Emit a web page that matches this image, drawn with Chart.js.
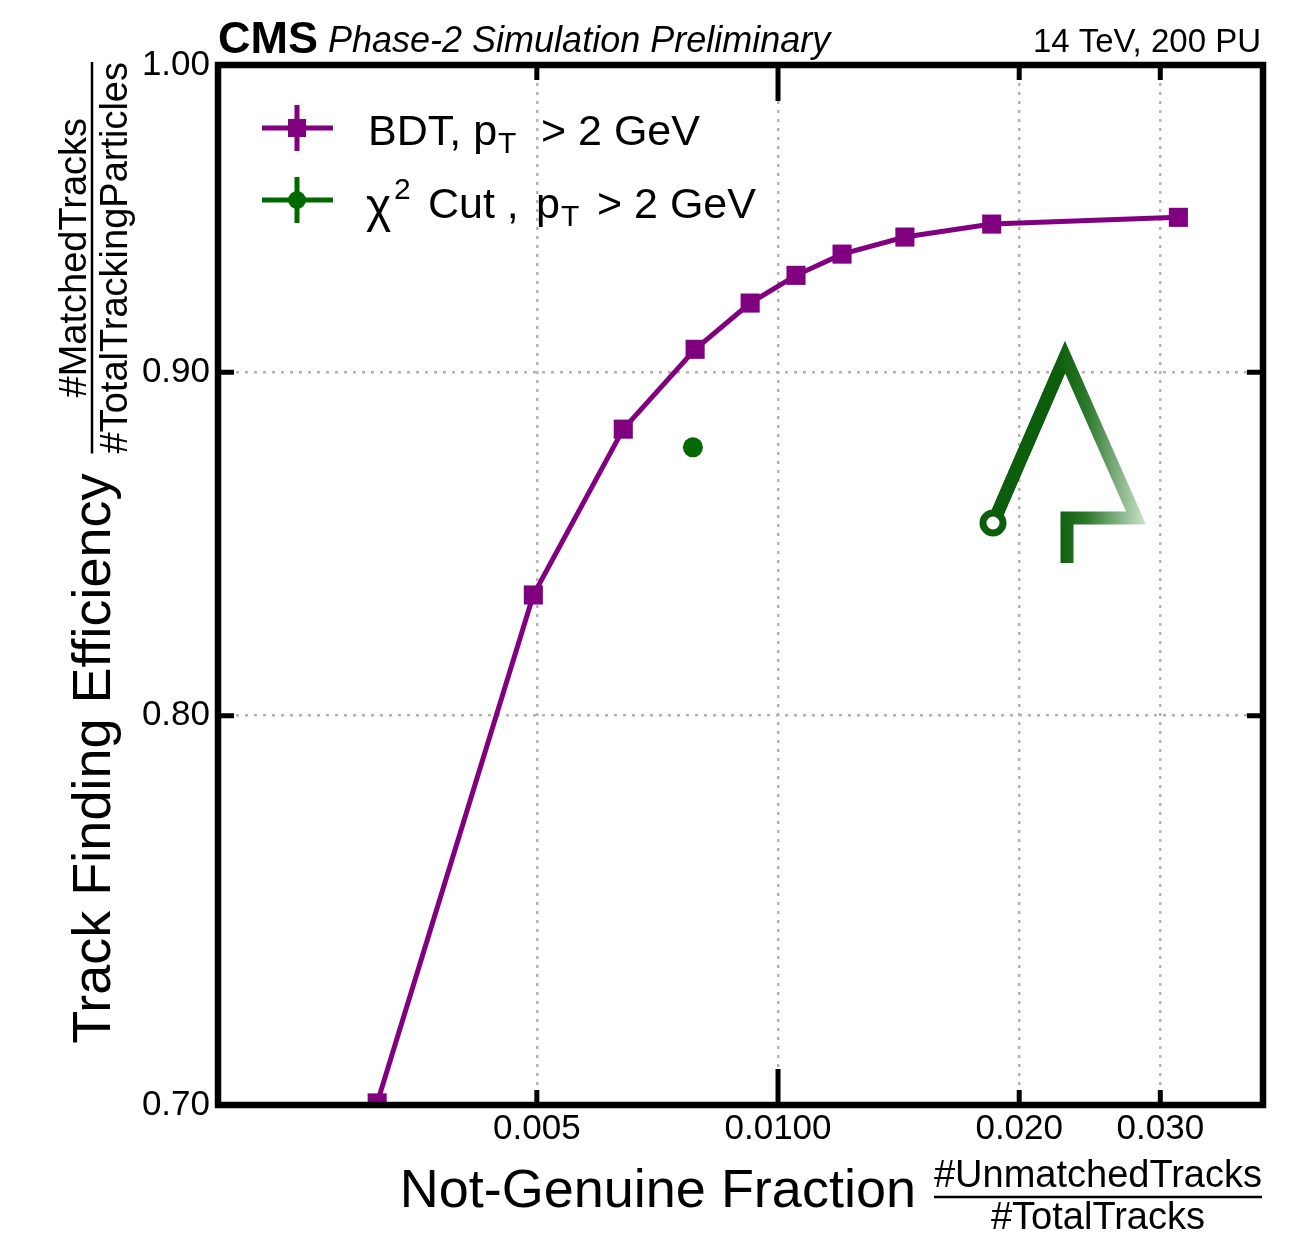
<!DOCTYPE html>
<html>
<head>
<meta charset="utf-8">
<title>Track finding efficiency vs not-genuine fraction</title>
<script src="https://cdn.jsdelivr.net/npm/chart.js@4/dist/chart.umd.min.js"></script>
<style>
  body { margin: 0; background: #fff; }
  #wrap { width: 1312px; height: 1234px; }
</style>
</head>
<body>
<div id="wrap"><canvas id="roc"></canvas></div>
<script>
// BDT working points (not-genuine fraction, efficiency)
const bdtFake = [0.00316, 0.00495, 0.00641, 0.00788, 0.00923, 0.01053, 0.01202, 0.01440, 0.01848, 0.0316];
const bdtEff = [0.7005, 0.8338, 0.8826, 0.9071, 0.9216, 0.9304, 0.9372, 0.9427, 0.9469, 0.9491];
// chi2 cut working point
const chi2Fake = [0.00783];
const chi2Eff = [0.8771];

const xTicks = [0.005, 0.01, 0.02, 0.03];
const xTickLabels = ['0.005', '0.0100', '0.020', '0.030'];
const yTicks = [0.7, 0.8, 0.9, 1.0];
const yTickLabels = ['0.70', '0.80', '0.90', '1.00'];

const PURPLE = '#800080';
const GREEN = '#006a00';
const FONT = '"Liberation Sans", Arial, Helvetica, sans-serif';

function text(ctx, s, x, y, font, align) {
  ctx.font = font;
  ctx.textAlign = align || 'left';
  ctx.textBaseline = 'alphabetic';
  ctx.fillText(s, x, y);
}

// frame, inner ticks, titles, legend and logo
const decorations = {
  id: 'decorations',
  afterDraw(chart) {
    const ctx = chart.ctx;
    const { left, right, top, bottom } = chart.chartArea;
    const xs = chart.scales.x, ys = chart.scales.y;
    ctx.save();
    ctx.strokeStyle = '#000';
    ctx.fillStyle = '#000';

    // ticks pointing into the frame
    ctx.lineWidth = 5;
    xTicks.forEach(v => {
      const px = xs.getPixelForValue(v);
      const len = v === 0.01 ? 36 : 15;
      ctx.beginPath();
      ctx.moveTo(px, bottom); ctx.lineTo(px, bottom - len);
      ctx.moveTo(px, top); ctx.lineTo(px, top + len);
      ctx.stroke();
    });
    yTicks.slice(1, -1).forEach(v => {
      const py = ys.getPixelForValue(v);
      ctx.beginPath();
      ctx.moveTo(left, py); ctx.lineTo(left + 16, py);
      ctx.moveTo(right, py); ctx.lineTo(right - 16, py);
      ctx.stroke();
    });

    ctx.lineWidth = 6.5;
    ctx.lineJoin = 'miter';
    ctx.strokeRect(left, top, right - left, bottom - top);

    // header
    text(ctx, 'CMS', 218, 53, `bold 45px ${FONT}`);
    text(ctx, 'Phase-2 Simulation Preliminary', 328, 52, `italic 36px ${FONT}`);
    text(ctx, '14 TeV, 200 PU', 1261, 52, `33px ${FONT}`, 'right');

    // x title with fraction
    const ff = `38px ${FONT}`;
    ctx.font = ff;
    const xNum = '#UnmatchedTracks', xDen = '#TotalTracks';
    const xw = Math.max(ctx.measureText(xNum).width, ctx.measureText(xDen).width);
    const xfc = 1262 - xw / 2;
    text(ctx, xNum, xfc, 1187, ff, 'center');
    text(ctx, xDen, xfc, 1229, ff, 'center');
    ctx.lineWidth = 2.5;
    ctx.beginPath(); ctx.moveTo(xfc - xw / 2, 1197); ctx.lineTo(xfc + xw / 2, 1197); ctx.stroke();
    text(ctx, 'Not-Genuine Fraction', xfc - xw / 2 - 18, 1207, `54px ${FONT}`, 'right');

    // y title with fraction, rotated: canvas (X, Y) -> (a = -Y, b = X)
    ctx.save();
    ctx.rotate(-Math.PI / 2);
    ctx.font = ff;
    const yNum = '#MatchedTracks', yDen = '#TotalTrackingParticles';
    const yw = Math.max(ctx.measureText(yNum).width, ctx.measureText(yDen).width);
    const yfc = -(62 + yw / 2);
    text(ctx, yNum, yfc, 86, ff, 'center');
    text(ctx, yDen, yfc, 127, ff, 'center');
    ctx.lineWidth = 2.5;
    ctx.beginPath(); ctx.moveTo(yfc - yw / 2, 92); ctx.lineTo(yfc + yw / 2, 92); ctx.stroke();
    text(ctx, 'Track Finding Efficiency', -(62 + yw + 20), 110, `54px ${FONT}`, 'right');
    ctx.restore();

    // legend
    const sets = chart.data.datasets;
    const rows = [128, 200];
    sets.forEach((ds, i) => {
      const cy = rows[i];
      ctx.strokeStyle = ds.borderColor;
      ctx.fillStyle = ds.borderColor;
      ctx.lineWidth = 5;
      ctx.beginPath();
      ctx.moveTo(262, cy); ctx.lineTo(333, cy);
      ctx.moveTo(297, cy - 23); ctx.lineTo(297, cy + 23);
      ctx.stroke();
      if (i === 0) ctx.fillRect(288, cy - 9, 18, 18);
      else { ctx.beginPath(); ctx.arc(297, cy, 9, 0, Math.PI * 2); ctx.fill(); }
    });
    ctx.fillStyle = '#000';
    const lf = `43px ${FONT}`, sf = `30px ${FONT}`;
    // row 1: BDT, pT > 2 GeV
    text(ctx, 'BDT, p', 368, 145, lf);
    ctx.font = lf;
    let w = ctx.measureText('BDT, p').width;
    text(ctx, 'T', 368 + w + 1, 153, sf);
    text(ctx, '> 2 GeV', 541, 145, lf);
    // row 2: chi2 Cut , pT > 2 GeV
    text(ctx, 'χ', 366, 222, `48px ${FONT}`);
    text(ctx, '2', 394, 199, sf);
    text(ctx, 'Cut ,', 428, 218, lf);
    text(ctx, 'p', 536, 218, lf);
    ctx.font = lf;
    w = ctx.measureText('p').width;
    text(ctx, 'T', 536 + w + 1, 226, sf);
    text(ctx, '> 2 GeV', 597, 218, lf);

    // logo
    const dark = '#0c5e0c';
    ctx.lineWidth = 13;
    ctx.lineJoin = 'miter';
    ctx.lineCap = 'butt';
    const grad = ctx.createLinearGradient(1058, 0, 1150, 0);
    grad.addColorStop(0, dark);
    grad.addColorStop(0.3, '#2a772a');
    grad.addColorStop(1, '#d8ead8');
    ctx.strokeStyle = grad;
    ctx.beginPath();
    ctx.moveTo(997, 514);
    ctx.lineTo(1065, 357);
    ctx.lineTo(1136, 518);
    ctx.lineTo(1067, 518);
    ctx.lineTo(1067, 563);
    ctx.stroke();
    ctx.strokeStyle = dark;
    ctx.beginPath();
    ctx.moveTo(997, 514);
    ctx.lineTo(1060, 369);
    ctx.stroke();
    ctx.lineWidth = 7;
    ctx.beginPath();
    ctx.arc(993, 523, 10, 0, Math.PI * 2);
    ctx.stroke();

    ctx.restore();
  }
};

new Chart(document.getElementById('roc'), {
  type: 'line',
  data: {
    datasets: [
      {
        label: 'BDT, pT > 2 GeV',
        data: bdtFake.map((x, i) => ({ x, y: bdtEff[i] })),
        borderColor: PURPLE,
        backgroundColor: PURPLE,
        borderWidth: 5,
        pointStyle: 'rect',
        pointRadius: 13.5,
        pointHoverRadius: 13.5,
        pointBorderWidth: 0,
        tension: 0
      },
      {
        label: 'χ2 Cut , pT > 2 GeV',
        data: chi2Fake.map((x, i) => ({ x, y: chi2Eff[i] })),
        borderColor: GREEN,
        backgroundColor: GREEN,
        showLine: false,
        pointStyle: 'circle',
        pointRadius: 10,
        pointHoverRadius: 10,
        pointBorderWidth: 0
      }
    ]
  },
  options: {
    responsive: true,
    maintainAspectRatio: false,
    animation: false,
    layout: { padding: { top: 65, right: 49, left: 0, bottom: 0 } },
    plugins: { legend: { display: false }, tooltip: { enabled: false } },
    scales: {
      x: {
        type: 'logarithmic',
        min: 0.002,
        max: 0.0403,
        afterBuildTicks: s => { s.ticks = xTicks.map(v => ({ value: v })); },
        afterFit: s => { s.height = 129; },
        ticks: {
          autoSkip: false,
          maxRotation: 0,
          padding: 3,
          color: '#000',
          font: { family: FONT, size: 35 },
          callback: (v, i) => xTickLabels[i]
        },
        grid: { color: '#b4b4b4', lineWidth: 2.5, drawTicks: false },
        border: { display: false, dash: [3, 6] }
      },
      y: {
        type: 'logarithmic',
        min: 0.7,
        max: 1.0,
        afterBuildTicks: s => { s.ticks = yTicks.map(v => ({ value: v })); },
        afterFit: s => { s.width = 218; },
        ticks: {
          padding: 8,
          color: '#000',
          font: { family: FONT, size: 35 },
          callback: (v, i) => yTickLabels[i]
        },
        grid: { color: '#b4b4b4', lineWidth: 2.5, drawTicks: false },
        border: { display: false, dash: [3, 6] }
      }
    }
  },
  plugins: [decorations]
});
</script>
</body>
</html>
